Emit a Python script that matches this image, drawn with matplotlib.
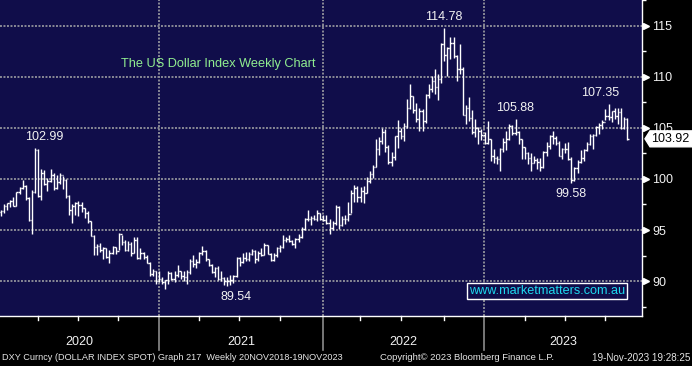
import numpy as np
import pandas as pd
import matplotlib
matplotlib.use('Agg')
import matplotlib.pyplot as plt
import matplotlib.transforms as mtransforms
from matplotlib.collections import LineCollection
from matplotlib.patches import Polygon

plt.rcParams['font.family'] = ['Liberation Sans', 'DejaVu Sans']

# weekly bars, Friday dates
weeks = pd.date_range('2020-01-03', '2023-11-17', freq='W-FRI')
prev_close = 96.74  # close of the week before the first bar

closes = [
    # 2020
    96.84, 97.36, 97.61, 97.87, 97.39, 98.68, 99.12, 99.26, 98.13, 95.99,
    98.75, 102.82, 98.35, 100.58, 99.50, 99.76, 100.37, 99.09, 99.74, 100.39,
    99.87, 98.34, 96.93, 97.33, 97.64, 97.43, 97.18, 96.65, 95.91, 94.44,
    93.35, 93.43, 93.09, 93.22, 92.37, 92.80, 93.33, 92.93, 94.64, 93.84,
    93.06, 93.68, 92.77, 94.04, 92.23, 92.76, 92.39, 91.79, 90.70, 90.98,
    90.02, 90.24,
    # 2021
    89.94, 90.10, 90.77, 90.23, 90.58, 91.03, 90.48, 90.36, 90.88, 91.98,
    91.67, 91.92, 92.77, 92.96, 92.16, 91.56, 90.85, 91.30, 90.22, 90.32,
    90.01, 90.03, 90.13, 90.55, 92.23, 91.85, 92.23, 92.12, 92.68, 92.91,
    92.17, 92.80, 92.52, 93.50, 92.69, 92.03, 92.58, 93.20, 93.31, 94.04,
    94.08, 93.96, 93.64, 94.12, 94.32, 95.12, 96.03, 96.09, 96.15, 96.08,
    96.63, 96.03, 95.97,
    # 2022
    95.73, 95.16, 95.64, 97.27, 95.49, 96.06, 96.05, 96.61, 98.66, 99.13,
    98.23, 98.79, 98.62, 99.80, 100.50, 101.12, 102.96, 103.66, 104.56, 103.15,
    101.64, 102.17, 104.15, 104.67, 104.19, 105.14, 106.89, 108.07, 106.73, 105.90,
    106.61, 105.64, 108.16, 108.82, 109.54, 109.00, 109.76, 113.19, 112.12, 112.80,
    113.31, 111.99, 110.76, 110.77, 106.29, 106.97, 106.00, 104.55, 104.99, 104.70,
    104.32, 103.52,
    # 2023
    103.89, 102.20, 102.01, 101.92, 102.92, 103.63, 103.86, 105.21, 104.52, 104.58,
    103.86, 103.12, 102.51, 102.09, 101.55, 101.82, 101.66, 101.21, 102.68, 103.20,
    104.21, 104.03, 103.56, 102.26, 102.89, 102.91, 101.95, 99.91, 101.07, 101.70,
    102.02, 102.84, 103.38, 104.15, 104.27, 105.07, 105.32, 105.58, 106.17, 106.05,
    106.65, 106.16, 106.56, 105.02, 105.87, 103.92,
]

highs = [
    # 2020
    96.95, 97.56, 97.67, 97.91, 98.19, 98.71, 99.16, 99.91, 99.43, 98.25,
    98.89, 102.99, 102.97, 100.93, 100.86, 100.05, 100.93, 100.54, 100.40, 100.56,
    100.32, 100.00, 98.43, 97.52, 97.73, 97.79, 97.71, 97.13, 96.88, 95.92,
    94.51, 93.63, 93.72, 93.35, 93.24, 93.03, 93.44, 93.36, 94.74, 94.48,
    94.07, 93.90, 93.83, 94.30, 94.31, 93.21, 92.85, 92.55, 91.89, 91.15,
    91.00, 91.02,
    # 2021
    90.40, 90.11, 90.95, 90.87, 90.95, 91.60, 91.04, 90.96, 91.07, 92.20,
    92.51, 92.12, 92.85, 93.44, 93.01, 92.21, 91.64, 91.41, 91.44, 90.98,
    90.42, 90.43, 90.63, 90.63, 92.41, 92.41, 92.74, 92.84, 92.83, 93.19,
    93.04, 92.90, 93.20, 93.73, 93.53, 92.79, 92.74, 93.34, 93.52, 94.50,
    94.28, 94.56, 93.99, 94.24, 94.63, 95.26, 96.13, 96.94, 96.39, 96.51,
    96.91, 96.64, 96.46,
    # 2022
    96.47, 96.03, 95.85, 97.44, 97.36, 96.41, 96.44, 97.74, 98.92, 99.42,
    99.29, 99.19, 99.33, 100.19, 100.76, 101.34, 103.93, 104.07, 105.01, 104.85,
    103.31, 102.68, 104.22, 105.79, 104.98, 105.48, 107.79, 109.29, 108.12, 107.43,
    106.93, 106.81, 108.27, 109.27, 110.03, 110.79, 110.26, 113.33, 114.78, 112.95,
    113.92, 113.89, 112.16, 113.15, 110.92, 107.26, 107.99, 106.72, 105.87, 105.07,
    104.86, 104.56,
    # 2023
    105.63, 103.95, 102.90, 102.27, 103.01, 103.96, 104.67, 105.36, 105.32, 105.88,
    104.70, 103.95, 103.11, 102.61, 102.53, 102.23, 102.06, 102.00, 102.75, 103.63,
    104.30, 104.70, 104.24, 103.66, 103.00, 103.55, 103.57, 102.12, 101.16, 101.84,
    102.84, 102.96, 103.59, 104.44, 104.44, 105.16, 105.43, 105.78, 106.84, 107.35,
    106.65, 106.91, 106.89, 106.93, 106.02, 105.95,
]

lows = [
    # 2020
    96.36, 96.62, 96.96, 97.30, 97.35, 97.36, 98.52, 98.97, 97.90, 95.84,
    94.65, 98.60, 98.23, 97.90, 99.38, 98.83, 99.70, 98.96, 99.01, 99.46,
    98.99, 98.10, 96.44, 95.71, 96.48, 96.38, 96.79, 96.22, 95.72, 94.43,
    92.55, 92.52, 92.84, 92.13, 92.22, 91.75, 92.69, 92.70, 93.09, 93.55,
    92.95, 92.96, 92.47, 92.79, 92.13, 92.21, 92.18, 91.73, 90.50, 90.47,
    89.72, 89.93,
    # 2021
    89.72, 89.21, 89.70, 90.08, 89.91, 90.43, 90.22, 90.02, 89.68, 90.65,
    91.35, 91.29, 91.80, 92.55, 91.93, 91.49, 90.79, 90.42, 90.08, 89.98,
    89.65, 89.54, 89.66, 89.85, 90.42, 91.51, 91.82, 91.95, 92.00, 92.59,
    91.78, 91.94, 92.46, 92.51, 92.65, 91.94, 91.94, 92.34, 92.88, 93.20,
    93.80, 93.86, 93.50, 93.28, 93.87, 94.20, 94.96, 95.88, 95.52, 95.94,
    95.85, 95.94, 95.86,
    # 2022
    95.60, 94.63, 94.96, 95.50, 95.14, 95.39, 95.59, 95.92, 96.66, 97.71,
    97.72, 97.78, 97.69, 98.58, 99.57, 100.05, 101.16, 102.35, 103.40, 102.66,
    101.43, 101.30, 101.82, 102.99, 103.86, 103.67, 104.97, 106.82, 106.40, 105.54,
    104.64, 104.64, 105.46, 107.91, 108.53, 108.35, 107.68, 109.35, 111.57, 110.06,
    111.71, 111.83, 109.54, 110.24, 106.28, 105.34, 105.64, 104.39, 104.12, 103.44,
    103.79, 103.39,
    # 2023
    103.37, 101.77, 101.53, 101.50, 100.82, 102.64, 102.79, 103.78, 104.28, 104.27,
    103.44, 101.92, 101.95, 101.41, 100.79, 101.51, 101.00, 100.78, 101.04, 102.26,
    102.96, 103.39, 103.30, 102.21, 101.92, 102.50, 101.84, 99.58, 99.75, 100.55,
    101.58, 101.74, 102.75, 103.36, 102.97, 104.24, 104.43, 104.87, 105.78, 105.74,
    105.53, 105.90, 105.36, 104.84, 104.91, 103.85,
]

# weeks that carry a price label, and whether the label marks the high or the low
label_weeks = ['2020-03-20', '2021-05-28', '2022-09-30', '2023-03-10', '2023-07-14', '2023-10-06']
label_kind = ['high', 'low', 'high', 'high', 'low', 'high']

y_ticks = [90, 95, 100, 105, 110, 115]
years = [2020, 2021, 2022, 2023]

n = len(weeks)
assert len(closes) == n and len(highs) == n and len(lows) == n
opens = [prev_close] + closes[:-1]
idx = np.arange(n)

navy = '#100d4a'
grid_c = '#8a8a96'
W, H = 692, 366

fig = plt.figure(figsize=(W / 100, H / 100), dpi=100, facecolor='black')
ax = fig.add_axes([0, 50 / H, 642 / W, 316 / H])
ax.set_facecolor(navy)

px_per_bar = 3.1
x0 = -0.3
ax.set_xlim(x0, x0 + 642 / px_per_bar)
ax.set_ylim(86.59, 117.39)

# OHLC bars
segs = []
for i in idx:
    segs.append([(i, lows[i]), (i, highs[i])])
    segs.append([(i - 0.45, opens[i]), (i, opens[i])])
    segs.append([(i, closes[i]), (i + 0.45, closes[i])])
ax.add_collection(LineCollection(segs, colors='white', linewidths=1.0, zorder=3))

# grid
dots = (0, (1, 0.8))
for v in y_ticks:
    ax.axhline(v, color=grid_c, lw=1.4, ls=dots, zorder=1)

yr = weeks.year
qtr = weeks.quarter
seps = [np.argmax(yr == y) - 1.1 for y in years[1:]]
qticks = [i - 1.1 for i in range(1, n) if qtr[i] != qtr[i - 1]]
for s in seps:
    ax.axvline(s, color=grid_c, lw=1.4, ls=dots, zorder=1)

bx = mtransforms.blended_transform_factory(ax.transData, ax.transAxes)
for q in qticks:
    if q in seps:
        ax.plot([q, q], [0, -34 / 316], color='#8c8c8c', lw=1.2, transform=bx, clip_on=False)
    else:
        ax.plot([q, q], [0, -4 / 316], color='white', lw=1.0, transform=bx, clip_on=False)

# year labels centred in the visible part of each year
xmin, xmax = ax.get_xlim()
bounds = [xmin] + seps + [xmax]
for k, y in enumerate(years):
    ax.text((bounds[k] + bounds[k + 1]) / 2, -26 / 316, str(y), transform=bx,
            ha='center', va='center', color='#f2f2f2', fontsize=9)

# spines / y axis on the right
for s in ['left', 'top']:
    ax.spines[s].set_visible(False)
ax.spines['right'].set_color('white')
ax.spines['bottom'].set_color('white')
ax.spines['right'].set_linewidth(1.0)
ax.spines['bottom'].set_linewidth(1.0)
ax.tick_params(axis='x', bottom=False, labelbottom=False)
ax.yaxis.tick_right()
ax.set_yticks(y_ticks)
ax.set_yticklabels([str(v) for v in y_ticks])
ax.set_yticks([87.5, 92.5, 97.5, 102.5, 107.5, 112.5, 117.5], minor=True)
ax.tick_params(axis='y', which='major', length=0, pad=7.5, labelcolor='#f2f2f2', labelsize=9)
ax.tick_params(axis='y', which='minor', length=3, width=1, color='white')
by = mtransforms.blended_transform_factory(ax.transAxes, ax.transData)
ax.plot([1.006] * len(y_ticks), y_ticks, ls='none', marker='>', ms=5, color='white',
        transform=by, clip_on=False)

# price labels at highs / lows
offsets = {'2020-03-20': 9, '2021-05-28': 9, '2023-10-06': -8}
for wk, kind in zip(label_weeks, label_kind):
    i = int(np.where(weeks == pd.Timestamp(wk))[0][0])
    v = highs[i] if kind == 'high' else lows[i]
    dy = 5 if kind == 'high' else -5
    ax.annotate('%.2f' % v, xy=(i, v), xytext=(offsets.get(wk, 0), dy), textcoords='offset pixels',
                ha='center', va='bottom' if kind == 'high' else 'top', color='#f2f2f2', fontsize=9, zorder=4)

# title
ax.text(121 / 642, 1 - 64 / 316, 'The US Dollar Index Weekly Chart', transform=ax.transAxes,
        color='#90ee90', fontsize=9.2, va='center', ha='left')

# watermark
ax.text(547 / 642, 1 - 291 / 316, 'www.marketmatters.com.au', transform=ax.transAxes,
        color='#1ed8ee', fontsize=9.1, ha='center', va='center', zorder=5,
        bbox=dict(boxstyle='square,pad=0.15', fc=navy, ec='white', lw=1.0))

# last price tag
last = closes[-1]
half = 8 / 10.26
bf = mtransforms.blended_transform_factory(fig.transFigure, ax.transData)
tag = Polygon([(645 / W, last), (650 / W, last + half), (1.0, last + half),
               (1.0, last - half), (650 / W, last - half)], closed=True,
              fc='white', ec='white', transform=bf, clip_on=False, zorder=6)
ax.add_patch(tag)
ax.text(651 / W, last, '%.2f' % last, transform=bf, color='black', fontsize=9,
        ha='left', va='center', zorder=7, clip_on=False)

# footer
foot_c = '#e6e6e6'
fig.text(2 / W, 8 / H, 'DXY Curncy (DOLLAR INDEX SPOT) Graph 217  Weekly 20NOV2018-19NOV2023',
         color=foot_c, fontsize=6.6, va='center', ha='left')
fig.text(380 / W, 8 / H, 'Copyright\u00a9 2023 Bloomberg Finance L.P.',
         color=foot_c, fontsize=6.8, va='center', ha='left')
fig.text(690 / W, 8 / H, '19-Nov-2023 19:28:25',
         color=foot_c, fontsize=7.1, va='center', ha='right')

fig.savefig('out.png', dpi=100, facecolor='black')
